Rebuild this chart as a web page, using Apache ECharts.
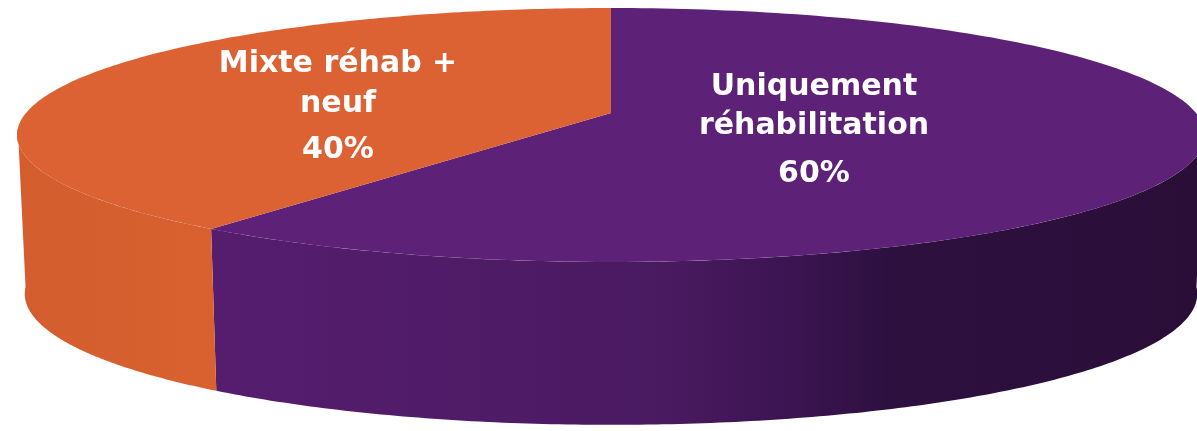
<!DOCTYPE html>
<html><head><meta charset="utf-8">
<script src="https://cdn.jsdelivr.net/npm/echarts/dist/echarts.min.js"></script>
<style>html,body{margin:0;padding:0;background:#fff}#c{width:1197px;height:431px}</style>
</head><body><div id="c"></div>
<script>
// ---- data ----
const categories = ['Uniquement réhabilitation', 'Mixte réhab + neuf'];
const labelLines = [['Uniquement', 'réhabilitation'], ['Mixte réhab +', 'neuf']];
const values = [60, 40];

// ---- styling ----
const topColors = ['#5E2178', '#DC6234'];
const sideColors = [
  [[0, '#561D6F'], [0.45, '#4A1A61'], [0.58, '#3C1452'], [0.68, '#2E1040'], [1, '#2A0E37']],
  [[0, '#D35D2E'], [1, '#D96130']]
];
const labelCenterX = [814, 338];
const labelLineY = [[87.6, 126.6, 174.6], [64.6, 104.6, 150.6]];

const total = values.reduce((a, b) => a + b, 0);
const G = {cx: 611, s: 585, yc: 113, b: -103.6, c: 0.1732, h0: 158, c2: 0.03, shrink: 0.987};
function topPt(t) {
  const u = Math.sin(t), v = Math.cos(t), d = 1 + G.c * v;
  return [G.cx + G.s * u / d, (G.yc + G.b * v) / d];
}
function botPt(t) {
  const p = topPt(t), v = Math.cos(t);
  return [G.cx + (p[0] - G.cx) * G.shrink, p[1] + G.h0 / (1 + G.c2 * v)];
}
const DEG = Math.PI / 180;
const visA = 97 * DEG, visB = 263 * DEG;

function renderItem(params, api) {
  const i = params.dataIndex;
  const val = api.value(0);
  let before = 0;
  for (let k = 0; k < i; k++) before += values[k];
  const a0 = before / total * 2 * Math.PI;
  const a1 = (before + val) / total * 2 * Math.PI;
  const N = 180;
  const children = [];
  // side
  const s0 = Math.max(a0, visA), s1 = Math.min(a1, visB);
  if (s1 > s0) {
    const up = [], dn = [];
    for (let k = 0; k <= N; k++) {
      const t = s0 + (s1 - s0) * k / N;
      up.push(topPt(t)); dn.push(botPt(t));
    }
    const pts = up.concat(dn.reverse());
    children.push({
      type: 'polygon', z2: 1,
      shape: {points: pts},
      style: {fill: new echarts.graphic.LinearGradient(0, 0, 1, 0,
        sideColors[i].map(s => ({offset: s[0], color: s[1]})))}
    });
  }
  // top face
  const tp = [[G.cx, G.yc]];
  for (let k = 0; k <= N; k++) tp.push(topPt(a0 + (a1 - a0) * k / N));
  children.push({type: 'polygon', z2: 2, shape: {points: tp}, style: {fill: topColors[i]}});
  // labels
  const lines = labelLines[i].concat([Math.round(val / total * 100) + '%']);
  lines.forEach((txt, j) => {
    children.push({
      type: 'text', z2: 3,
      style: {
        text: txt, x: labelCenterX[i], y: labelLineY[i][j],
        fill: '#ffffff', font: 'bold 30px "DejaVu Sans"',
        align: 'center', verticalAlign: 'middle'
      }
    });
  });
  return {type: 'group', children: children};
}

const chart = echarts.init(document.getElementById('c'));
chart.setOption({
  animation: false,
  backgroundColor: '#ffffff',
  series: [{
    type: 'custom',
    coordinateSystem: 'none',
    renderItem: renderItem,
    data: values.map((v, i) => ({name: categories[i], value: [v, i]}))
  }]
});
</script>
</body></html>
